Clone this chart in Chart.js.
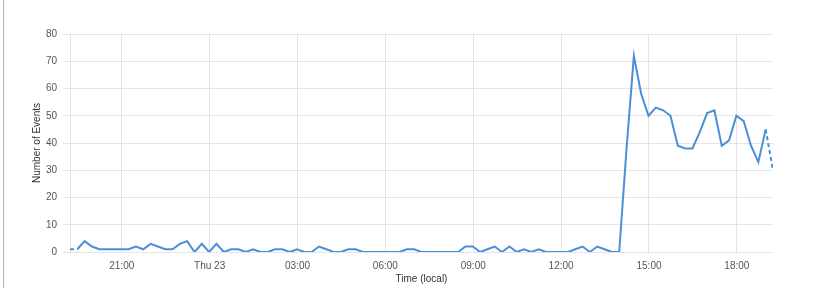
<!DOCTYPE html>
<html>
<head>
<meta charset="utf-8">
<script src="https://cdn.jsdelivr.net/npm/chart.js@4/dist/chart.umd.min.js"></script>
<style>
  body { margin: 0; background: #fff; }
  #wrap { position: relative; width: 820px; height: 288px; }
  #edge { position: absolute; left: 3px; top: 0; width: 1px; height: 288px; background: #b4b4b4; }
</style>
</head>
<body>
<div id="wrap">
  <canvas id="eventsChart" width="820" height="288"></canvas>
  <div id="edge"></div>
</div>
<script>
// Data: one value every 15 minutes, starting Wed 22 at 19:14 (local)
const startMinute = 19 * 60 + 14;
const stepMinutes = 15;
const eventCounts = [
  1, 1, 4, 2, 1, 1, 1, 1, 1, 2, 1, 3, 2, 1, 1, 3,
  4, 0, 3, 0, 3, 0, 1, 1, 0, 1, 0, 0, 1, 1, 0, 1,
  0, 0, 2, 1, 0, 0, 1, 1, 0, 0, 0, 0, 0, 0, 1, 1,
  0, 0, 0, 0, 0, 0, 2, 2, 0, 1, 2, 0, 2, 0, 1, 0,
  1, 0, 0, 0, 0, 1, 2, 0, 2, 1, 0, 0, 38, 72, 58, 50,
  53, 52, 50, 39, 38, 38, 44, 51, 52, 39, 41, 50, 48, 39, 33, 45,
  30
];

// Tick labels and the clock hour they sit on (hours past Wed 00:00)
const tickLabels = ["21:00", "Thu 23", "03:00", "06:00", "09:00", "12:00", "15:00", "18:00"];
const tickHours = [21, 24, 27, 30, 33, 36, 39, 42];
const yTicks = [0, 10, 20, 30, 40, 50, 60, 70, 80];

// Minutes from the first sample
const points = eventCounts.map((v, i) => ({ x: i * stepMinutes, y: v }));
const tickPositions = tickHours.map(h => h * 60 - startMinute);
const lastIndex = eventCounts.length - 1;

const gridColor = "#e4e4e4";
const textColor = "#555";
const font = { family: "'Segoe UI', 'Liberation Sans', Arial, sans-serif", size: 10 };

new Chart(document.getElementById("eventsChart"), {
  type: "line",
  data: {
    datasets: [{
      label: "Events",
      data: points,
      borderColor: "#4a8fd8",
      borderWidth: 2,
      pointRadius: 0,
      tension: 0,
      fill: false,
      segment: {
        borderDash: ctx => (ctx.p0DataIndex === 0 || ctx.p1DataIndex === lastIndex) ? [4, 3] : undefined
      }
    }]
  },
  options: {
    responsive: false,
    animation: false,
    layout: { padding: { left: 0, top: 34, right: 47, bottom: 0 } },
    plugins: {
      legend: { display: false },
      tooltip: { enabled: false }
    },
    scales: {
      x: {
        type: "linear",
        min: 0,
        max: lastIndex * stepMinutes,
        afterFit: scale => { scale.height = 36; },
        afterBuildTicks: scale => { scale.ticks = tickPositions.map(v => ({ value: v })); },
        grid: { color: gridColor, drawTicks: false },
        border: { display: false },
        ticks: {
          autoSkip: false,
          maxRotation: 0,
          padding: 8,
          color: textColor,
          font: font,
          callback: value => {
            const i = tickPositions.indexOf(value);
            return i >= 0 ? tickLabels[i] : null;
          }
        },
        title: {
          display: true,
          text: "Time (local)",
          color: "#333",
          font: font,
          padding: { top: 0, bottom: 3 }
        }
      },
      y: {
        min: yTicks[0],
        max: yTicks[yTicks.length - 1],
        afterFit: scale => { scale.width = 70; },
        grid: { color: gridColor, tickLength: 7 },
        border: { display: true, color: gridColor },
        ticks: {
          stepSize: 10,
          padding: 6,
          color: textColor,
          font: font
        },
        title: {
          display: true,
          text: "Number of Events",
          color: "#333",
          font: font,
          padding: { top: 31, bottom: 0 }
        }
      }
    }
  }
});
</script>
</body>
</html>
